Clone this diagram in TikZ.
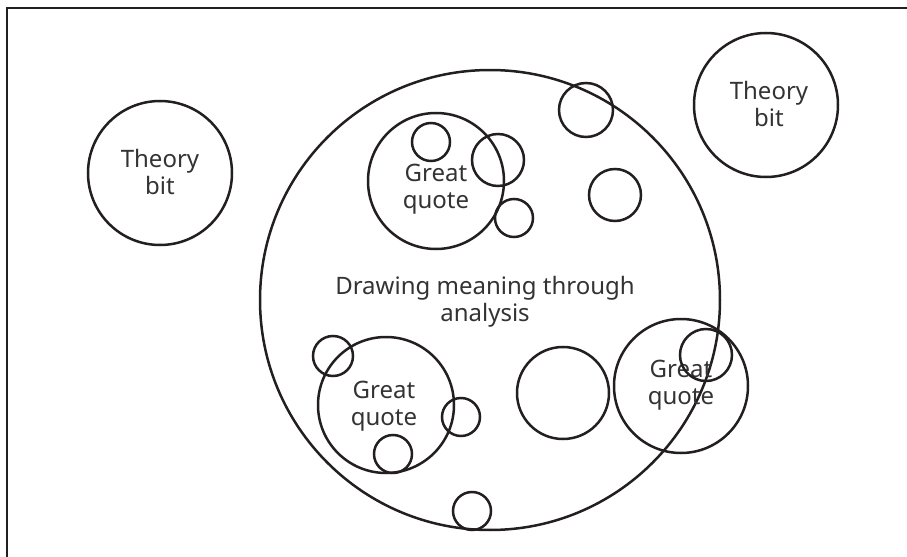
\documentclass[tikz,border=0pt]{standalone}
\usepackage{fontspec}
\setmainfont{Noto Sans}
\usetikzlibrary{positioning}
\definecolor{inkline}{HTML}{231F20}
\definecolor{inktext}{HTML}{333333}
\tikzset{
  blob/.style={draw=inkline, circle, line width=1.25pt, inner sep=0pt, outer sep=0pt, minimum size=#1pt},
  words/.style={text=inktext, align=center, font=\fontsize{12}{13.5}\selectfont, inner sep=0pt},
}

\begin{document}
\begin{tikzpicture}[x=0.5pt, y=-0.5pt]
  \useasboundingbox (0,0) rectangle (907,557);
  % page frame
  \draw[inkline, line width=0.6pt] (7,557) -- (7,8) -- (907,8);

  % theory bits
  \node[blob=72] (theoryL) at (160,173) {};
  \node[blob=72] (theoryR) at (766,105) {};
  \node[words] (theoryLtxt) at (160,172) {Theory\\bit};
  \node[words] (theoryRtxt) at (769,104) {Theory\\bit};

  % main analysis circle
  \node[blob=230] (analysis) at (490,300) {};
  \node[words] (analysistxt) at (485,302) {Drawing meaning through\\analysis};

  % quotes
  \node[blob=68] (quoteA) at (436,181) {};
  \node[words] (quoteAtxt) at (436,189) {Great\\quote};
  \node[blob=68] (quoteB) at (386,405) {};
  \node[words] (quoteBtxt) at (384,406) {Great\\quote};
  \node[blob=67] (quoteC) at (681,386) {};
  \node[words] (quoteCtxt) at (681,385) {Great\\quote};

  % small ideas
  \node[blob=19] (ideaA1) at (431,142) {};
  \node[blob=26] (ideaA2) at (498,160) {};
  \node[blob=19] (ideaA3) at (514,218) {};
  \node[blob=27] (ideaT1) at (586,110) {};
  \node[blob=26] (ideaT2) at (615,195) {};
  \node[blob=20] (ideaB1) at (333,356) {};
  \node[blob=19] (ideaB2) at (461,417) {};
  \node[blob=19] (ideaB3) at (393,454) {};
  \node[blob=19] (ideaBot) at (472,511) {};
  \node[blob=46] (ideaMid) at (563,393) {};
  \node[blob=26] (ideaC1) at (706,355) {};
\end{tikzpicture}
\end{document}
